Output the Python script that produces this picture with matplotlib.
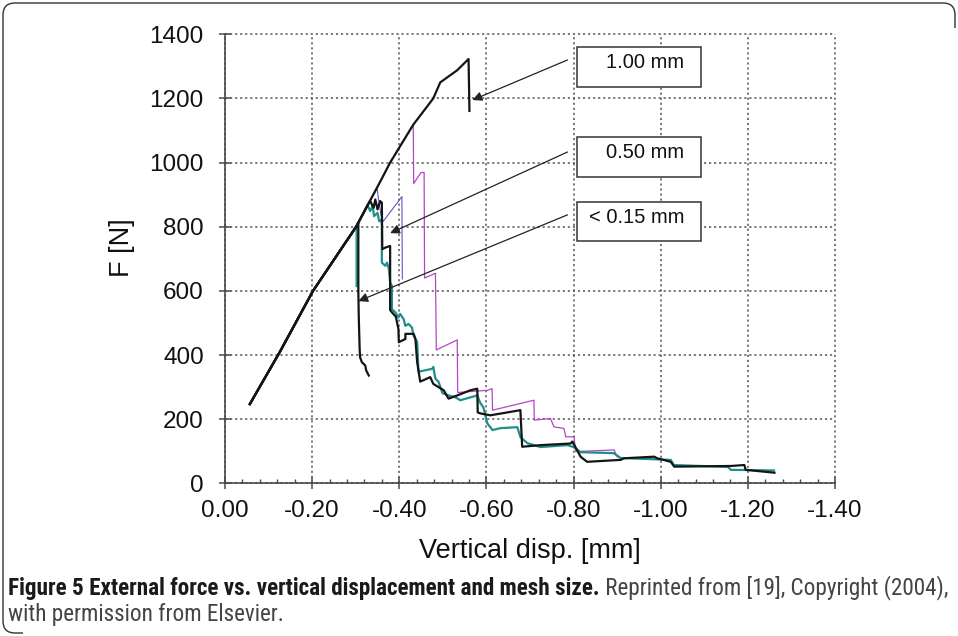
import numpy as np
import matplotlib
matplotlib.use('Agg')
import matplotlib.pyplot as plt
from matplotlib import font_manager
from matplotlib.path import Path
from matplotlib.patches import PathPatch, Rectangle
from matplotlib.ticker import MultipleLocator

plt.rcParams['font.family'] = ['Liberation Sans', 'DejaVu Sans']

# Force-displacement curves (displacement in mm, force in N)
# 1.00 mm mesh
disp_100 = [-0.057, -0.126, -0.202, -0.301, -0.356, -0.379, -0.432, -0.478, -0.494, -0.533, -0.559, -0.561]
force_100 = [247, 410, 600, 800, 940, 1000, 1118, 1200, 1250, 1288, 1323, 1161]

# 0.50 mm mesh
disp_050 = [-0.057, -0.126, -0.202, -0.301, -0.333, -0.341, -0.345, -0.350, -0.356, -0.360, -0.361,
            -0.368, -0.379, -0.379, -0.385, -0.392, -0.398, -0.399, -0.414, -0.414, -0.433, -0.437,
            -0.441, -0.448, -0.471, -0.478, -0.502, -0.513, -0.533, -0.563, -0.579, -0.580, -0.586,
            -0.609, -0.678, -0.682, -0.724, -0.793, -0.797, -0.808, -0.816, -0.831, -0.908, -0.916,
            -0.985, -0.992, -1.023, -1.031, -1.161, -1.192, -1.195, -1.261]
force_050 = [247, 410, 600, 800, 881, 859, 885, 854, 880, 875, 730,
             735, 740, 540, 530, 520, 481, 440, 450, 466, 466, 450,
             378, 317, 331, 310, 290, 264, 274, 290, 295, 221, 218,
             212, 228, 114, 119, 124, 130, 104, 83, 67, 73, 78,
             83, 78, 67, 52, 54, 57, 42, 33]

# < 0.15 mm mesh
disp_015 = [-0.057, -0.126, -0.202, -0.301, -0.306, -0.306, -0.307, -0.309, -0.310, -0.314, -0.322, -0.324, -0.330]
force_015 = [247, 410, 600, 800, 813, 600, 520, 420, 393, 378, 367, 352, 336]

# other runs
disp_purple = [-0.057, -0.126, -0.202, -0.301, -0.356, -0.379, -0.432, -0.433, -0.450, -0.457, -0.458,
               -0.483, -0.485, -0.533, -0.534, -0.602, -0.613, -0.614, -0.709, -0.710, -0.747, -0.755,
               -0.778, -0.782, -0.801, -0.805, -0.893, -0.900, -0.905]
force_purple = [247, 410, 600, 800, 940, 1000, 1118, 935, 969, 969, 640,
                655, 416, 447, 283, 290, 295, 228, 259, 197, 202, 176,
                171, 145, 145, 99, 104, 83, 80]

disp_blue = [-0.057, -0.126, -0.202, -0.301, -0.349, -0.353, -0.358, -0.363, -0.366, -0.406, -0.407]
force_blue = [247, 410, 600, 800, 920, 880, 835, 817, 822, 894, 637]

disp_teal = [-0.057, -0.126, -0.202, -0.301, -0.327, -0.333, -0.339, -0.342, -0.350, -0.354, -0.359,
             -0.360, -0.360, -0.368, -0.372, -0.376, -0.379, -0.383, -0.383, -0.391, -0.398, -0.402,
             -0.410, -0.414, -0.421, -0.429, -0.433, -0.441, -0.444, -0.476, -0.478, -0.483, -0.490,
             -0.499, -0.513, -0.529, -0.540, -0.579, -0.586, -0.593, -0.602, -0.614, -0.632, -0.671,
             -0.678, -0.694, -0.724, -0.786, -0.800, -0.816, -0.892, -0.908, -1.023, -1.030, -1.154,
             -1.161, -1.260]
force_teal = [247, 410, 600, 800, 868, 849, 864, 833, 843, 817, 822,
              802, 688, 678, 688, 668, 626, 616, 543, 533, 517, 528,
              512, 491, 497, 486, 460, 441, 348, 357, 363, 326, 317,
              281, 274, 268, 259, 274, 250, 237, 187, 166, 172, 175,
              144, 125, 113, 119, 113, 97, 94, 79, 73, 57, 51,
              42, 40]

disp_teal_short = [-0.057, -0.126, -0.202, -0.301, -0.302, -0.302]
force_teal_short = [247, 410, 600, 800, 803, 615]

# mesh size labels: text, arrow tip (disp, force), arrow tail (disp, force), box bottom/top force
mesh_labels = ['1.00 mm', '0.50 mm', '< 0.15 mm']
label_tip = [(-0.568, 1195), (-0.379, 780), (-0.306, 568)]
label_tail = [(-0.786, 1320), (-0.786, 1033), (-0.786, 837)]
box_force = [(1236, 1360), (955, 1080), (757, 877)]

W, H = 958, 636
fig = plt.figure(figsize=(W / 100, H / 100), dpi=100)
ax = fig.add_axes([225 / W, 1 - 483.3 / H, 610 / W, 449 / H])

ax.plot(disp_purple, force_purple, color='#b347c2', lw=0.9, zorder=3)
ax.plot(disp_blue, force_blue, color='#5858cc', lw=0.8, zorder=3)
ax.plot(disp_teal_short, force_teal_short, color='#1c9a9a', lw=1.6, zorder=4)
ax.plot(disp_teal, force_teal, color='#1f8f8c', lw=1.6, zorder=4)
ax.plot(disp_015, force_015, color='#151515', lw=1.6, zorder=5)
ax.plot(disp_050, force_050, color='#151515', lw=1.6, zorder=5)
ax.plot(disp_100, force_100, color='#151515', lw=1.6, zorder=6)

ax.set_xlim(0, -1.4)
ax.set_ylim(0, 1400)
ax.xaxis.set_minor_locator(MultipleLocator(0.04))
ax.yaxis.set_major_locator(MultipleLocator(200))

for s in ['top', 'right']:
    ax.spines[s].set_visible(False)
for s in ['left', 'bottom']:
    ax.spines[s].set_color('#4a4a4a')
    ax.spines[s].set_linewidth(1.2)

ax.grid(True, which='major', color='#555555', lw=1.1, linestyle=(0, (1.4, 1.9)))
ax.set_axisbelow(True)

ax.tick_params(which='major', direction='inout', length=8.6, width=1.1, color='#4a4a4a',
               labelsize=17.5, labelcolor='#111111')
ax.tick_params(axis='x', which='major', pad=8.0)
ax.tick_params(axis='y', which='major', pad=11.0)
ax.tick_params(axis='x', which='minor', direction='in', length=3, width=1.0, color='#4a4a4a')

# The zero tick label shows as "0.00"
xt = np.arange(0, -1.41, -0.2)
ax.set_xticks(xt)
ax.set_xticklabels(['%.2f' % v if abs(v) > 1e-9 else '0.00' for v in xt])
for gl in ax.get_xgridlines() + ax.get_ygridlines():
    gl.set_clip_on(False)

ax.set_xlabel('Vertical disp. [mm]', fontsize=19.5, color='#111111', va='center')
ax.xaxis.set_label_coords(0.5, (483.3 - 551) / 449)
ax.set_ylabel('F [N]', fontsize=19.5, color='#111111', va='center')
ax.yaxis.set_label_coords((122 - 225) / 610, (483.3 - 248) / 449)

# Mesh size boxes with arrows pointing at the failure points
for text, tip, tail, (fb, ft) in zip(mesh_labels, label_tip, label_tail, box_force):
    ax.add_patch(Rectangle((-0.809, fb), -0.283, ft - fb, fill=True, facecolor='white',
                           edgecolor='#333333', lw=1.1, zorder=7, clip_on=False))
    ax.text(-1.054, ft - 19, text, ha='right', va='top', fontsize=14.5, color='#111111', zorder=8)
    ax.annotate('', xy=tip, xytext=tail, zorder=8,
                arrowprops=dict(arrowstyle='-|>', color='#222222', lw=0.9,
                                mutation_scale=14, shrinkA=0, shrinkB=0))

# Caption under the chart
names = {f.name for f in font_manager.fontManager.ttflist}
cap_font = 'Open Sans'
for cand in ['Liberation Sans Narrow', 'Noto Sans Condensed', 'Roboto Condensed', 'Open Sans Condensed']:
    if cand in names:
        cap_font = cand
        break

bold_txt = 'Figure 5 External force vs. vertical displacement and mesh size.'
rest_txt = 'Reprinted from [19], Copyright (2004),'
line2_txt = 'with permission from Elsevier.'

renderer = fig.canvas.get_renderer()
fs = 10
t1 = fig.text(8 / W, 1 - 588 / H, bold_txt, fontsize=fs, fontweight='bold', family=cap_font,
              color='#1a1a1a', va='center')
t2 = fig.text(0, 1 - 588 / H, ' ' + rest_txt, fontsize=fs, family=cap_font, color='#444444', va='center')
w_total = t1.get_window_extent(renderer).width + t2.get_window_extent(renderer).width
fs = fs * 937 / w_total
t1.set_fontsize(fs)
t2.set_fontsize(fs)
x_end = t1.get_window_extent(renderer).x1
t2.set_x(x_end / W)
fig.text(8 / W, 1 - 614 / H, line2_txt, fontsize=fs, family=cap_font, color='#444444', va='center')

# Rounded frame around the figure
r = 12
verts = [(W - 3, H - 28), (W - 3, H - 3 - r), (W - 3, H - 3), (W - 3 - r, H - 3),
         (3 + r, H - 3), (3, H - 3), (3, H - 3 - r),
         (3, 3 + r), (3, 3), (3 + r, 3), (3 + r + 8, 3)]
codes = [Path.MOVETO, Path.LINETO, Path.CURVE3, Path.CURVE3,
         Path.LINETO, Path.CURVE3, Path.CURVE3,
         Path.LINETO, Path.CURVE3, Path.CURVE3, Path.LINETO]
frame = PathPatch(Path(verts, codes), transform=None, fill=False, edgecolor='#333333', lw=1.0)
fig.patches.append(frame)

fig.savefig('out.png', dpi=100)
